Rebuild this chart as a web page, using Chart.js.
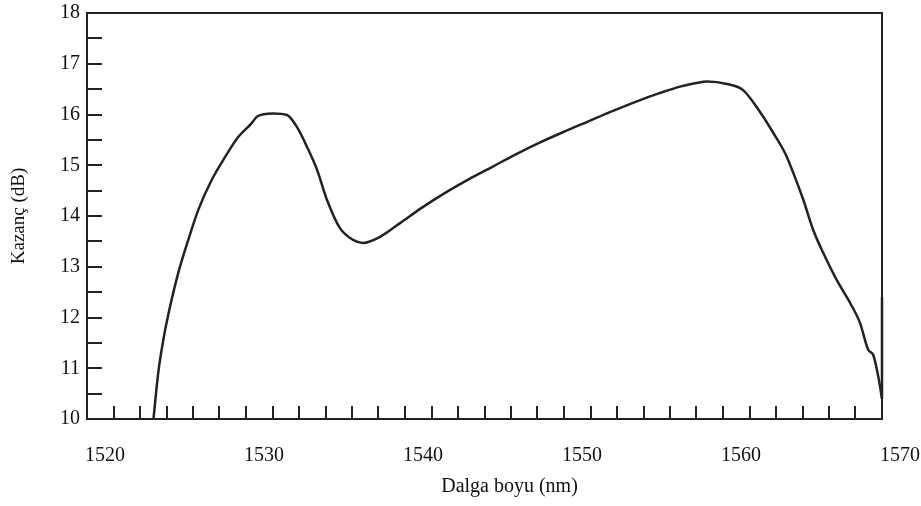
<!DOCTYPE html>
<html>
<head>
<meta charset="utf-8">
<script src="https://cdn.jsdelivr.net/npm/chart.js@4/dist/chart.umd.min.js"></script>
<style>
  html, body { margin: 0; padding: 0; background: #fff; }
  #wrap { width: 921px; height: 506px; }
</style>
</head>
<body>
<div id="wrap"><canvas id="gainChart" width="921" height="506"></canvas></div>
<script>
// Wavelength (nm) and gain (dB)
const wavelength = [
  1524.18, 1524.48, 1524.80, 1525.22, 1525.74, 1526.37, 1527.00, 1527.84, 1528.68, 1529.52,
  1530.36, 1530.70, 1531.70, 1532.58, 1533.21, 1533.84, 1534.47, 1535.09, 1535.91, 1536.73,
  1537.36, 1538.43, 1539.69, 1541.00, 1542.50, 1544.00, 1545.50, 1547.00, 1548.50, 1550.00,
  1551.50, 1553.00, 1554.50, 1556.00, 1557.30, 1558.30, 1559.00, 1560.25, 1561.26, 1562.33,
  1563.16, 1563.90, 1564.42, 1565.05, 1565.68, 1566.31, 1567.15, 1567.99, 1568.62, 1569.14,
  1569.45, 1569.77, 1570.00
];
const gain = [
  10.00, 10.91, 11.56, 12.21, 12.88, 13.53, 14.12, 14.71, 15.16, 15.56,
  15.83, 15.96, 16.02, 15.99, 15.75, 15.36, 14.91, 14.32, 13.76, 13.53,
  13.47, 13.59, 13.86, 14.15, 14.45, 14.72, 14.97, 15.22, 15.45, 15.66,
  15.86, 16.06, 16.25, 16.42, 16.55, 16.62, 16.65, 16.60, 16.48, 16.05,
  15.64, 15.24, 14.85, 14.32, 13.72, 13.27, 12.74, 12.29, 11.89, 11.36,
  11.26, 10.83, 10.40
];
// vertical stroke at the right edge where the trace ends
const edgeWavelength = [1570.00, 1570.00];
const edgeGain = [10.40, 12.40];

// Axis ticks
const xLabels = [1520, 1530, 1540, 1550, 1560, 1570];
const xMinorCount = 30;           // 30 tick intervals across the x axis
const yLabels = [10, 11, 12, 13, 14, 15, 16, 17, 18];
const yMinorStep = 0.5;

const xTitle = 'Dalga boyu (nm)';
const yTitle = 'Kazanç (dB)';

const serif = 'Liberation Serif, Times New Roman, serif';
const ink = '#222';

// frame on top/right + x title slightly right of centre like the original
const framePlugin = {
  id: 'frame',
  afterDraw(chart) {
    const { ctx, chartArea: a } = chart;
    ctx.save();
    ctx.strokeStyle = ink;
    ctx.lineWidth = 2;
    ctx.beginPath();
    ctx.moveTo(a.left, a.top);
    ctx.lineTo(a.right, a.top);
    ctx.lineTo(a.right, a.bottom);
    ctx.stroke();
    ctx.fillStyle = '#111';
    ctx.font = '20px ' + serif;
    ctx.textAlign = 'center';
    ctx.textBaseline = 'middle';
    ctx.fillText(xTitle, (a.left + a.right) / 2 + 25, a.bottom + 68);
    ctx.restore();
  }
};

const isNear = (v, list) => list.some(t => Math.abs(t - v) < 1e-6);
const noOverflow = s => { s.paddingTop = 0; s.paddingBottom = 0; s.paddingLeft = 0; s.paddingRight = 0; };

new Chart(document.getElementById('gainChart'), {
  type: 'line',
  data: {
    datasets: [{
      data: wavelength.map((w, i) => ({ x: w, y: gain[i] })),
      borderColor: ink,
      borderWidth: 2.5,
      pointRadius: 0,
      cubicInterpolationMode: 'monotone',
      fill: false,
      clip: false
    }, {
      data: edgeWavelength.map((w, i) => ({ x: w, y: edgeGain[i] })),
      borderColor: ink,
      borderWidth: 2.5,
      pointRadius: 0,
      tension: 0,
      fill: false,
      clip: false
    }]
  },
  options: {
    responsive: false,
    animation: false,
    layout: { padding: { left: 8, top: 13, right: 39, bottom: 0 } },
    plugins: { legend: { display: false }, tooltip: { enabled: false } },
    scales: {
      x: {
        type: 'linear',
        min: xLabels[0],
        max: xLabels[xLabels.length - 1],
        afterBuildTicks: s => {
          const lo = xLabels[0], hi = xLabels[xLabels.length - 1];
          s.ticks = [];
          for (let i = 0; i <= xMinorCount; i++) s.ticks.push({ value: lo + (hi - lo) * i / xMinorCount });
        },
        afterFit: s => { s.height = 87; noOverflow(s); },
        border: { display: true, color: ink, width: 2 },
        grid: { drawOnChartArea: false, drawTicks: true, tickLength: -13, color: ink, lineWidth: 2 },
        ticks: {
          autoSkip: false,
          maxRotation: 0,
          padding: 38,
          labelOffset: 18,
          color: '#111',
          font: { family: serif, size: 20 },
          callback: v => isNear(v, xLabels) ? String(Math.round(v)) : ''
        }
      },
      y: {
        min: yLabels[0],
        max: yLabels[yLabels.length - 1],
        afterBuildTicks: s => {
          s.ticks = [];
          for (let v = yLabels[0]; v <= yLabels[yLabels.length - 1] + 1e-9; v += yMinorStep) s.ticks.push({ value: v });
        },
        afterFit: s => { s.width = 79; noOverflow(s); },
        border: { display: true, color: ink, width: 2 },
        grid: { drawOnChartArea: false, drawTicks: true, tickLength: -15, color: ink, lineWidth: 2 },
        ticks: {
          autoSkip: false,
          padding: 22,
          color: '#111',
          font: { family: serif, size: 20 },
          callback: v => isNear(v, yLabels) ? String(Math.round(v)) : ''
        },
        title: {
          display: true,
          text: yTitle,
          padding: 0,
          color: '#111',
          font: { family: serif, size: 19 }
        }
      }
    }
  },
  plugins: [framePlugin]
});
</script>
</body>
</html>
